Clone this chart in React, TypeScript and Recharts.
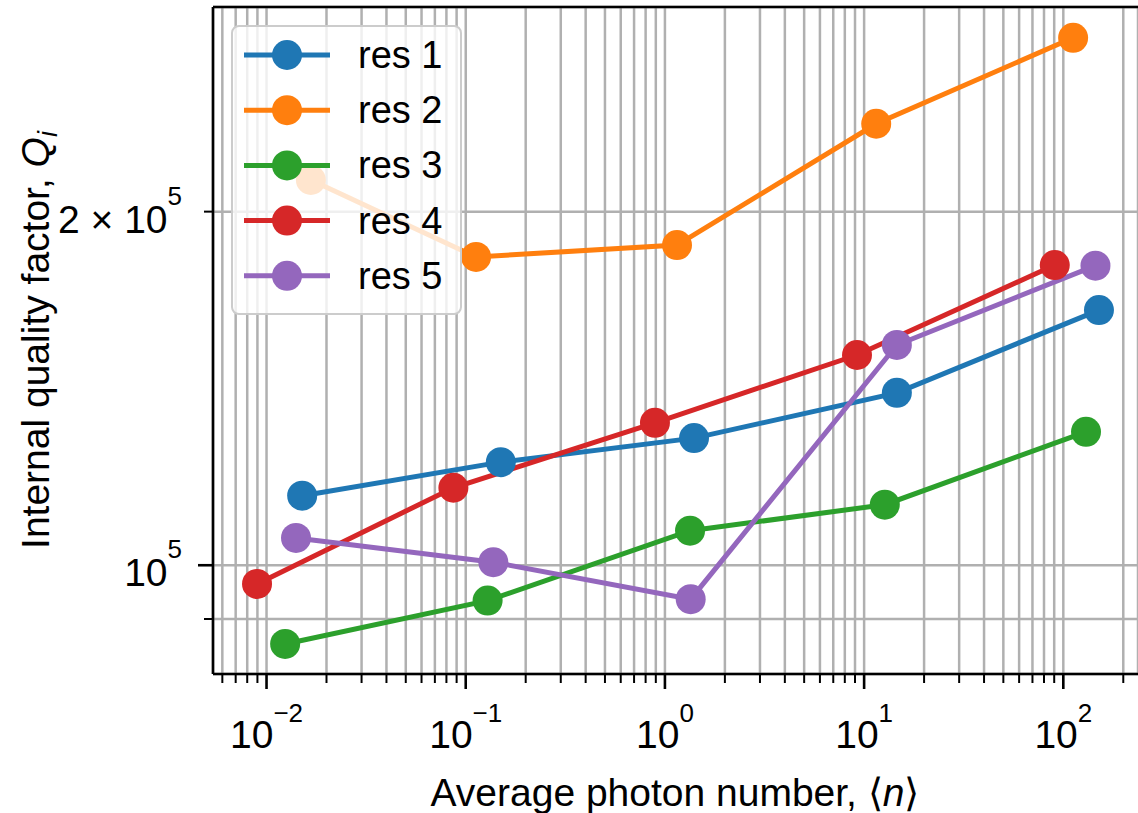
import React from "react";
import { LineChart, Line, XAxis, YAxis, CartesianGrid, Legend, ReferenceLine } from "recharts";

// photon number <n> and internal Q for each resonator
const res1N = [0.0151, 0.15, 1.4, 14.6, 151];
const res1Q = [114600, 122400, 128300, 140200, 164900];
const res2N = [0.0167, 0.1127, 1.15, 11.5, 112];
const res2Q = [212800, 183000, 187300, 237600, 281200];
const res3N = [0.0124, 0.1288, 1.337, 12.7, 130];
const res3Q = [85700, 93300, 107000, 112600, 129900];
const res4N = [0.00896, 0.0867, 0.891, 9.21, 90.6];
const res4Q = [96400, 116400, 132200, 151000, 180100];
const res5N = [0.01406, 0.1376, 1.347, 14.6, 145];
const res5Q = [105500, 100600, 93560, 154000, 179900];

const names = ["res 1", "res 2", "res 3", "res 4", "res 5"];
const colors = ["#1f77b4", "#ff7f0e", "#2ca02c", "#d62728", "#9467bd"];

const xDecades = [-3, -2, -1, 0, 1, 2];
const yTicks = [90000, 100000, 200000];

const X_MIN = 0.005386;
const X_MAX = 237.1;
const Y_MIN = 80800;
const Y_MAX = 298700;

const FONT = "'Liberation Sans', Arial, Helvetica, sans-serif";

const series = [
  [res1N, res1Q],
  [res2N, res2Q],
  [res3N, res3Q],
  [res4N, res4Q],
  [res5N, res5Q],
].map(([ns, qs], i) => ({
  name: names[i],
  color: colors[i],
  data: ns.map((n, k) => ({ n, q: qs[k] })),
}));

const xTicks: number[] = [];
xDecades.forEach((d) => {
  for (let m = 1; m <= 9; m++) {
    const v = m * Math.pow(10, d);
    if (v >= X_MIN && v <= X_MAX) xTicks.push(v);
  }
});

const isMajor = (v: number) => {
  const e = Math.round(Math.log10(v));
  return Math.abs(v - Math.pow(10, e)) < v * 1e-6;
};

const XTick = (props: any) => {
  const { x, y, payload } = props;
  const v = payload.value;
  const major = isMajor(v);
  const e = Math.round(Math.log10(v));
  return (
    <g>
      <line x1={x} x2={x} y1={y} y2={y + (major ? 15 : 9)} stroke="#000" strokeWidth={major ? 2.6 : 2} />
      {major && (
        <text x={x} y={y + 74} textAnchor="middle" fontFamily={FONT} fontSize={39} fill="#000">
          <tspan>10</tspan>
          <tspan dy={-26} fontSize={26}>{e < 0 ? "\u2212" + Math.abs(e) : String(e)}</tspan>
        </text>
      )}
    </g>
  );
};

const YTick = (props: any) => {
  const { x, y, payload } = props;
  const v = payload.value;
  const major = isMajor(v);
  let label = "";
  if (v === 100000) label = "10";
  if (v === 200000) label = "2 \u00d7 10";
  return (
    <g>
      <line x1={x - (major ? 15 : 9)} x2={x} y1={y} y2={y} stroke="#000" strokeWidth={major ? 2.6 : 2} />
      {label && (
        <text x={x - 31} y={y + 21} textAnchor="end" fontFamily={FONT} fontSize={39} fill="#000">
          <tspan>{label}</tspan>
          <tspan dy={-28} fontSize={26}>5</tspan>
        </text>
      )}
    </g>
  );
};

const LegendBox = () => (
  <svg width={232} height={292}>
    <rect x={1} y={1} width={229} height={288} rx={7} ry={7} fill="rgba(255,255,255,0.8)" stroke="#cccccc" strokeWidth={2} />
    {series.map((s, i) => {
      const cy = 30 + i * 55.2;
      return (
        <g key={s.name}>
          <line x1={13} x2={99} y1={cy} y2={cy} stroke={s.color} strokeWidth={5} />
          <circle cx={56} cy={cy} r={15} fill={s.color} />
          <text x={127} y={cy + 13} fontFamily={FONT} fontSize={38} fill="#000">{s.name}</text>
        </g>
      );
    })}
  </svg>
);

export default function App() {
  return (
    <div style={{ width: 1138, height: 813, background: "#fff" }}>
      <style>{`body{margin:0}`}</style>
      <LineChart width={1138} height={813} margin={{ top: 7, right: 0, left: 0, bottom: 0 }}>
        <CartesianGrid stroke="#b0b0b0" strokeWidth={2.5} />
        <XAxis
          type="number"
          dataKey="n"
          scale="log"
          domain={[X_MIN, X_MAX]}
          allowDataOverflow
          ticks={xTicks}
          interval={0}
          tickSize={0}
          tickMargin={0}
          tick={<XTick />}
          height={139}
          axisLine={{ stroke: "#000", strokeWidth: 2.6 }}
          label={{
            content: () => (
              <text x={675} y={806} textAnchor="middle" fontFamily={FONT} fontSize={39} fill="#000">
                Average photon number, {"\u27e8"}
                <tspan fontStyle="italic">n</tspan>
                {"\u27e9"}
              </text>
            ),
          }}
        />
        <YAxis
          type="number"
          dataKey="q"
          scale="log"
          domain={[Y_MIN, Y_MAX]}
          allowDataOverflow
          ticks={yTicks}
          interval={0}
          tickSize={0}
          tickMargin={0}
          tick={<YTick />}
          width={213}
          axisLine={{ stroke: "#000", strokeWidth: 2.6 }}
          label={{
            content: () => (
              <text
                x={0}
                y={0}
                transform="translate(49,340) rotate(-90)"
                textAnchor="middle"
                fontFamily={FONT}
                fontSize={39}
                fill="#000"
              >
                Internal quality factor, <tspan fontStyle="italic">Q</tspan>
                <tspan fontStyle="italic" fontSize={27} dy={8}>i</tspan>
              </text>
            ),
          }}
        />
        <ReferenceLine y={Y_MAX} stroke="#000" strokeWidth={2.6} />
        {series.map((s) => (
          <Line
            key={s.name}
            data={s.data}
            dataKey="q"
            name={s.name}
            stroke={s.color}
            strokeWidth={5}
            dot={{ r: 15, fill: s.color, stroke: s.color, strokeWidth: 0 }}
            activeDot={false}
            isAnimationActive={false}
          />
        ))}
        <Legend
          layout="vertical"
          align="center"
          verticalAlign="middle"
          content={() => <LegendBox />}
          wrapperStyle={{ position: "absolute", left: 231, top: 25, width: 232, height: 292 }}
        />
      </LineChart>
    </div>
  );
}
